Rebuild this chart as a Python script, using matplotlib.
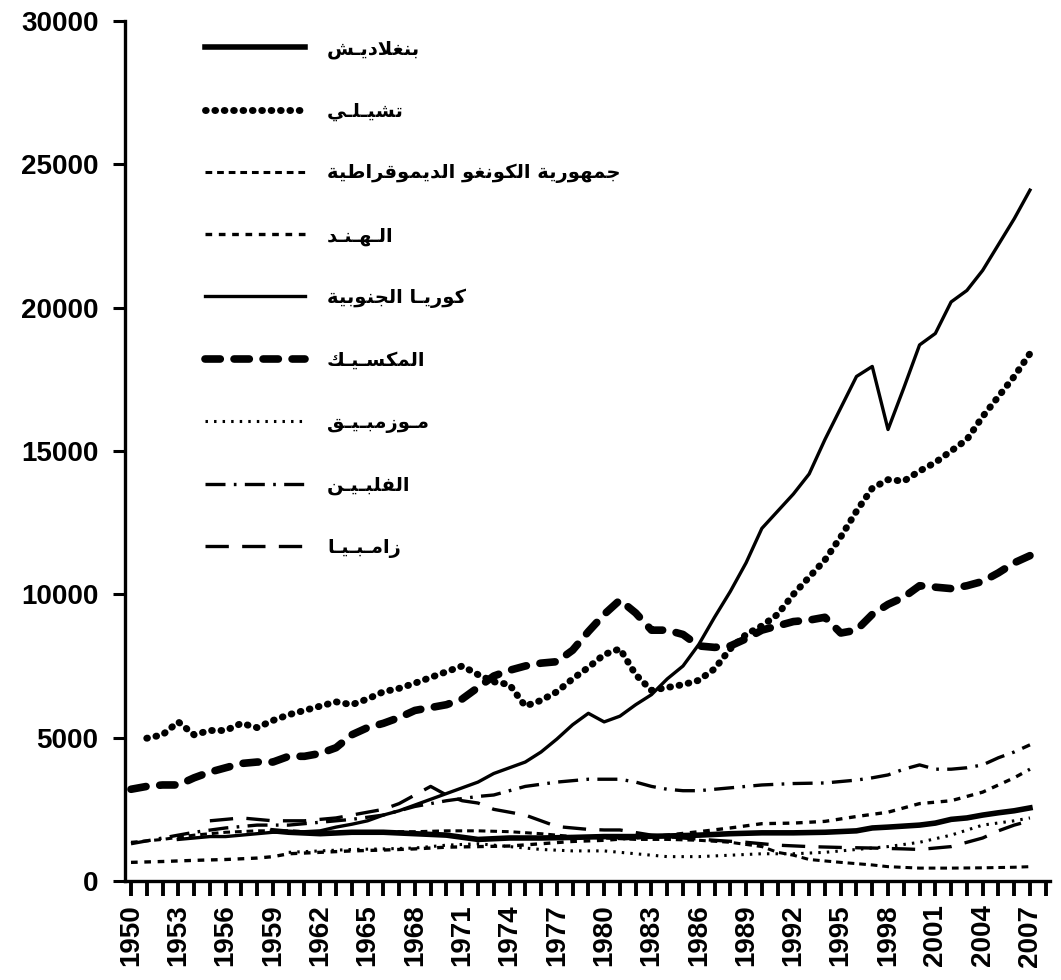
import numpy as np
import matplotlib
matplotlib.use("Agg")
import matplotlib.pyplot as plt

# ---- data ----
countries = ["بنغلاديـش", "تشيـلـي", "جمهورية الكونغو الديموقراطية", "الـهـنـد",
             "كوريـا الجنوبية", "المكسـيـك", "مـوزمبـيـق", "الفلبـيـن", "زامـبـيـا"]

bangladesh_years = [1959, 1960, 1962, 1964, 1966, 1968, 1970, 1972, 1974, 1976, 1978, 1980, 1982,
                    1984, 1986, 1988, 1990, 1992, 1994, 1996, 1997, 1998, 2000, 2001, 2002, 2003,
                    2004, 2005, 2006, 2007]
bangladesh_vals = [1750, 1700, 1650, 1700, 1700, 1650, 1600, 1450, 1500, 1500, 1520, 1550, 1550,
                   1570, 1600, 1650, 1680, 1680, 1700, 1750, 1850, 1880, 1950, 2020, 2150, 2200,
                   2300, 2380, 2450, 2550]

chile_years = list(range(1951, 2008))
chile_vals = [4980, 5100, 5550, 5100, 5250, 5250, 5500, 5350, 5600, 5800, 5950, 6100, 6250, 6150,
              6350, 6600, 6720, 6900, 7100, 7300, 7500, 7200, 6950, 6850, 6100, 6300, 6600, 7050,
              7450, 7900, 8100, 7200, 6650, 6750, 6850, 7000, 7400, 8100, 8600, 8900, 9300, 10000,
              10600, 11200, 12000, 12900, 13700, 14000, 13950, 14300, 14600, 15000, 15400, 16200,
              16900, 17600, 18400]

congo_years = [1950, 1952, 1954, 1956, 1958, 1960, 1962, 1964, 1966, 1968, 1970, 1972, 1974, 1976,
               1978, 1980, 1982, 1984, 1986, 1988, 1990, 1991, 1992, 1993, 1995, 1997, 1998, 2000,
               2002, 2004, 2006, 2007]
congo_vals = [1350, 1450, 1600, 1700, 1750, 1750, 1700, 1700, 1720, 1720, 1750, 1750, 1720, 1650,
              1550, 1500, 1450, 1450, 1420, 1350, 1200, 1000, 900, 750, 650, 560, 500, 450,
              450, 460, 480, 500]

india_years = [1950, 1952, 1954, 1956, 1958, 1959, 1960, 1962, 1964, 1966, 1968, 1970, 1972, 1974,
               1976, 1978, 1980, 1982, 1984, 1986, 1988, 1990, 1992, 1994, 1996, 1998, 2000, 2002,
               2004, 2006, 2007]
india_vals = [650, 680, 720, 750, 800, 850, 950, 1000, 1050, 1080, 1120, 1180, 1200, 1220,
              1300, 1380, 1420, 1500, 1600, 1720, 1850, 2000, 2020, 2080, 2250, 2400, 2700, 2800,
              3100, 3600, 3900]

korea_years = list(range(1953, 2008))
korea_vals = [1450, 1500, 1550, 1550, 1600, 1650, 1700, 1700, 1720, 1750, 1880, 1980, 2100, 2300,
              2450, 2650, 2850, 3050, 3250, 3450, 3750, 3950, 4150, 4500, 4950, 5450, 5850, 5550,
              5750, 6150, 6500, 7050, 7500, 8250, 9200, 10100, 11100, 12300, 12900, 13500, 14200,
              15400, 16500, 17600, 17950, 15750, 17200, 18700, 19100, 20200, 20600, 21300, 22200,
              23100, 24100]

mexico_years = list(range(1950, 2008))
mexico_vals = [3200, 3300, 3350, 3350, 3600, 3800, 3950, 4100, 4150, 4150, 4350, 4350, 4450, 4650,
               5100, 5350, 5500, 5700, 5950, 6050, 6150, 6350, 6750, 7150, 7350, 7500, 7600, 7650,
               8050, 8700, 9300, 9800, 9350, 8750, 8750, 8600, 8200, 8150, 8200, 8450, 8750, 8900,
               9050, 9100, 9200, 8650, 8750, 9300, 9650, 9900, 10300, 10250, 10200, 10300, 10450,
               10750, 11100, 11350]

mozambique_years = [1960, 1962, 1964, 1966, 1968, 1970, 1972, 1974, 1976, 1978, 1980, 1982, 1984,
                    1986, 1988, 1990, 1992, 1994, 1996, 1998, 2000, 2002, 2004, 2006, 2007]
mozambique_vals = [1000, 1050, 1100, 1120, 1150, 1250, 1300, 1200, 1100, 1050, 1050, 950, 850,
                   850, 900, 950, 950, 1000, 1100, 1200, 1350, 1600, 1950, 2100, 2200]

philippines_years = [1950, 1952, 1954, 1956, 1958, 1960, 1962, 1964, 1966, 1968, 1970, 1972, 1973,
                     1975, 1977, 1979, 1981, 1982, 1983, 1984, 1985, 1986, 1987, 1988, 1990, 1992,
                     1994, 1996, 1997, 1998, 1999, 2000, 2001, 2002, 2003, 2004, 2005, 2006, 2007]
philippines_vals = [1300, 1500, 1700, 1850, 1950, 1950, 2050, 2150, 2300, 2600, 2800, 2950, 3000,
                    3300, 3450, 3550, 3550, 3450, 3300, 3200, 3150, 3150, 3200, 3250, 3350, 3400,
                    3420, 3520, 3600, 3700, 3900, 4050, 3900, 3900, 3950, 4050, 4300, 4500, 4750]

zambia_years = [1955, 1957, 1959, 1961, 1963, 1965, 1966, 1967, 1968, 1969, 1970, 1971, 1972, 1973,
                1974, 1975, 1976, 1977, 1979, 1980, 1981, 1983, 1985, 1987, 1989, 1991, 1993, 1995,
                1997, 1999, 2000, 2001, 2002, 2003, 2004, 2005, 2006, 2007]
zambia_vals = [2100, 2200, 2100, 2100, 2200, 2400, 2500, 2700, 3000, 3300, 3000, 2800, 2720, 2500,
               2400, 2300, 2100, 1900, 1800, 1780, 1780, 1600, 1500, 1420, 1350, 1250, 1200, 1170,
               1150, 1120, 1100, 1150, 1200, 1350, 1500, 1750, 1950, 2100]

year_ticks = list(range(1950, 2009))
year_labels = [str(y) if (y - 1950) % 3 == 0 else "" for y in year_ticks]
y_ticks = [0, 5000, 10000, 15000, 20000, 25000, 30000]


# ---- minimal Arabic shaping (matplotlib has no bidi / joining) ----
FORMS = {
    "ا": ("\uFE8D", "\uFE8E", None, None), "ب": ("\uFE8F", "\uFE90", "\uFE91", "\uFE92"),
    "ة": ("\uFE93", "\uFE94", None, None), "ت": ("\uFE95", "\uFE96", "\uFE97", "\uFE98"),
    "ج": ("\uFE9D", "\uFE9E", "\uFE9F", "\uFEA0"), "د": ("\uFEA9", "\uFEAA", None, None),
    "ر": ("\uFEAD", "\uFEAE", None, None), "ز": ("\uFEAF", "\uFEB0", None, None),
    "س": ("\uFEB1", "\uFEB2", "\uFEB3", "\uFEB4"), "ش": ("\uFEB5", "\uFEB6", "\uFEB7", "\uFEB8"),
    "ط": ("\uFEC1", "\uFEC2", "\uFEC3", "\uFEC4"), "غ": ("\uFECD", "\uFECE", "\uFECF", "\uFED0"),
    "ف": ("\uFED1", "\uFED2", "\uFED3", "\uFED4"), "ق": ("\uFED5", "\uFED6", "\uFED7", "\uFED8"),
    "ك": ("\uFED9", "\uFEDA", "\uFEDB", "\uFEDC"), "ل": ("\uFEDD", "\uFEDE", "\uFEDF", "\uFEE0"),
    "م": ("\uFEE1", "\uFEE2", "\uFEE3", "\uFEE4"), "ن": ("\uFEE5", "\uFEE6", "\uFEE7", "\uFEE8"),
    "ه": ("\uFEE9", "\uFEEA", "\uFEEB", "\uFEEC"), "و": ("\uFEED", "\uFEEE", None, None),
    "ي": ("\uFEF1", "\uFEF2", "\uFEF3", "\uFEF4"), "ـ": ("ـ", "ـ", "ـ", "ـ"),
}


def shape(word):
    chars = list(word)
    out = []
    i = 0
    while i < len(chars):
        c = chars[i]
        if c not in FORMS:
            out.append(c)
            i += 1
            continue
        prev = chars[i - 1] if i > 0 else None
        joins_prev = prev in FORMS and FORMS[prev][2] is not None
        if c == "ل" and i + 1 < len(chars) and chars[i + 1] == "ا":
            out.append("\uFEFC" if joins_prev else "\uFEFB")
            i += 2
            continue
        nxt = chars[i + 1] if i + 1 < len(chars) else None
        joins_next = FORMS[c][2] is not None and nxt in FORMS
        iso, fin, ini, med = FORMS[c]
        if joins_prev and joins_next:
            out.append(med)
        elif joins_prev:
            out.append(fin)
        elif joins_next:
            out.append(ini)
        else:
            out.append(iso)
        i += 1
    return "".join(reversed(out))


series = [
    (bangladesh_years, bangladesh_vals, dict(ls="-", lw=4.0)),
    (chile_years, chile_vals, dict(ls=(0, (0.1, 1.25)), lw=5.0, dash_capstyle="round")),
    (congo_years, congo_vals, dict(ls=(0, (2.2, 1.6)), lw=2.2)),
    (india_years, india_vals, dict(ls=(0, (2.0, 2.0)), lw=2.4)),
    (korea_years, korea_vals, dict(ls="-", lw=2.4)),
    (mexico_years, mexico_vals, dict(ls=(0, (2.0, 1.8)), lw=5.5, dash_capstyle="round")),
    (mozambique_years, mozambique_vals, dict(ls=(0, (0.8, 2.0)), lw=2.2)),
    (philippines_years, philippines_vals, dict(ls=(0, (6, 2.5, 0.8, 2.5)), lw=2.4)),
    (zambia_years, zambia_vals, dict(ls=(0, (7, 4)), lw=2.4)),
]

fig = plt.figure(figsize=(10.61, 9.8), dpi=100)
ax = fig.add_axes([125 / 1061, 1 - 881 / 980, 925 / 1061, 860 / 980])

for (yrs, vals, st), name in zip(series, countries):
    ax.plot(yrs, vals, color="black", label=shape(name), **st)

ax.set_xlim(1949.62, 2008.27)
ax.set_ylim(0, 30000)
for s in ["top", "right"]:
    ax.spines[s].set_visible(False)
for s in ["left", "bottom"]:
    ax.spines[s].set_linewidth(2.4)

ax.set_yticks(y_ticks)
ax.set_yticklabels([str(v) for v in y_ticks], fontsize=20, fontweight="bold",
                   family="Liberation Sans")
ax.tick_params(axis="y", length=9, width=2.2, pad=10)

ax.set_xticks(year_ticks)
ax.set_xticklabels(year_labels, rotation=90, fontsize=20, fontweight="bold",
                   family="Liberation Sans")
ax.tick_params(axis="x", length=11, width=2.8, pad=6)

leg = ax.legend(loc="upper left", bbox_to_anchor=(0.0865, 0.979), frameon=False,
                borderpad=0, borderaxespad=0, handlelength=5.15, handletextpad=1.13,
                labelspacing=2.2, prop=dict(family="DejaVu Sans", weight="bold", size=14))

fig.savefig("out.png", dpi=100)
